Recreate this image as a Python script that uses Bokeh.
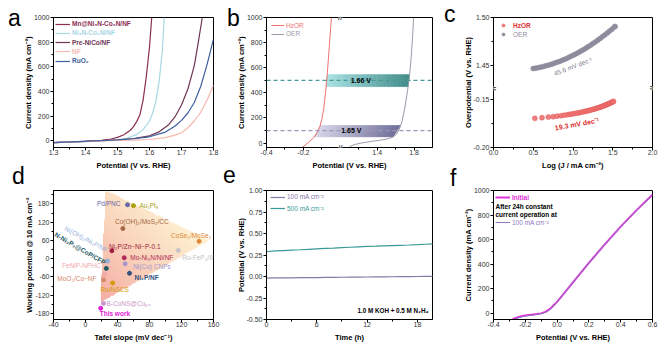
import numpy as np
from bokeh.plotting import figure
from bokeh.models import (FixedTicker, Legend, LegendItem, Label, LabelSet,
                          ColumnDataSource, Span, Range1d, GridBox, Div)
from bokeh.core.properties import value
from bokeh.embed import file_html
from bokeh.resources import INLINE

FONT = "Liberation Sans"

# ---------------- data ----------------
# (a) OER polarisation curves
a_mn_x = [1.30, 1.35, 1.40, 1.45, 1.48, 1.50, 1.52, 1.54, 1.55, 1.56, 1.57, 1.58, 1.59, 1.60, 1.607]
a_mn_y = [-15, -12, -6, 4, 14, 27, 48, 85, 115, 155, 210, 330, 520, 760, 1000]
a_ni_x = [1.30, 1.40, 1.45, 1.50, 1.53, 1.56, 1.58, 1.60, 1.61, 1.62, 1.63, 1.64, 1.646]
a_ni_y = [-15, -8, -2, 8, 22, 50, 90, 160, 225, 320, 480, 730, 1000]
a_pre_x = [1.30, 1.45, 1.50, 1.55, 1.60, 1.63, 1.66, 1.68, 1.70, 1.72, 1.74, 1.75, 1.765]
a_pre_y = [-15, 0, 8, 18, 40, 72, 130, 195, 290, 420, 610, 760, 1000]
a_nf_x = [1.30, 1.50, 1.55, 1.60, 1.65, 1.68, 1.70, 1.72, 1.74, 1.76, 1.78, 1.80]
a_nf_y = [-15, 2, 5, 10, 25, 45, 65, 105, 160, 230, 330, 450]
a_ru_x = [1.30, 1.50, 1.55, 1.60, 1.65, 1.68, 1.70, 1.72, 1.74, 1.76, 1.78, 1.80]
a_ru_y = [-15, 6, 16, 32, 70, 120, 165, 225, 310, 440, 620, 825]
a_names = ["Mn@Ni₃N-Co₂N/NF", "Ni₃N-Co₂N/NF", "Pre-NiCo/NF", "NF", "RuO₂"]

# (b) HzOR vs OER
b_hz_x = [-0.215, -0.19, -0.165, -0.145, -0.125, -0.11, -0.10, -0.09, -0.08, -0.07, -0.06, -0.048]
b_hz_y = [-45, -15, 15, 42, 85, 135, 190, 270, 400, 560, 760, 1000]
b_oer_x = [1.10, 1.15, 1.24, 1.35, 1.45, 1.52, 1.57, 1.61, 1.64, 1.67, 1.70, 1.73, 1.75, 1.77, 1.785, 1.795]
b_oer_y = [-28, -12, 2, 15, 25, 35, 48, 70, 110, 175, 280, 420, 530, 690, 860, 1000]
b_levels = [500, 100]
b_level_text = ["1.66 V", "1.65 V"]
b_band_lo = [450, 50]
b_band_hi = [545, 140]

# (c) Tafel plots
c_hz_x = [0.52, 0.61, 0.69, 0.75, 0.80, 0.85, 0.89, 0.93, 0.96, 0.99, 1.02, 1.05, 1.08, 1.10,
          1.13, 1.15, 1.17, 1.19, 1.21, 1.23, 1.25, 1.27, 1.29, 1.30, 1.32, 1.34, 1.35, 1.37,
          1.38, 1.40, 1.41, 1.42, 1.44, 1.45, 1.46, 1.47, 1.49, 1.50, 1.51]
c_hz_y = [-0.1695, -0.1688, -0.1682, -0.1677, -0.1672, -0.1667, -0.1662, -0.1657, -0.1653,
          -0.1649, -0.1645, -0.1640, -0.1636, -0.1632, -0.1627, -0.1623, -0.1619, -0.1615,
          -0.1611, -0.1606, -0.1602, -0.1597, -0.1592, -0.1589, -0.1584, -0.1578, -0.1575,
          -0.1569, -0.1566, -0.1560, -0.1556, -0.1553, -0.1546, -0.1542, -0.1538, -0.1534,
          -0.1526, -0.1522, -0.1518]
c_oer_x = [0.50, 0.53, 0.56, 0.59, 0.62, 0.65, 0.68, 0.71, 0.74, 0.77, 0.80, 0.83, 0.86, 0.89,
           0.92, 0.95, 0.98, 1.01, 1.04, 1.07, 1.10, 1.13, 1.16, 1.19, 1.22, 1.25, 1.28, 1.31,
           1.34, 1.37, 1.40, 1.43, 1.46, 1.49, 1.52, 1.53]
c_oer_y = [1.4466, 1.4470, 1.4475, 1.4480, 1.4486, 1.4493, 1.4499, 1.4507, 1.4514, 1.4523,
           1.4532, 1.4541, 1.4551, 1.4561, 1.4572, 1.4584, 1.4596, 1.4608, 1.4621, 1.4635,
           1.4649, 1.4663, 1.4678, 1.4694, 1.4710, 1.4727, 1.4744, 1.4761, 1.4780, 1.4798,
           1.4818, 1.4837, 1.4858, 1.4878, 1.4900, 1.4907]
c_slopes = ["45.6 mV dec⁻¹", "19.3 mV dec⁻¹"]

# (d) comparison
d_names = ["Pd/PNC", "Au₁Pt₉", "Co(OH)₂/MoS₂/CC", "CoSe₂/MoSe₂", "Ru-FeP₄/IF",
           "Ni₂P/Zn−Ni−P-0.1", "Ni(OH)₂/Ni₂P/NF", "Mo-Ni₃N/Ni/NF", "Ni(Cu) CNPs",
           "N-Ni₃P₂@CoP/CFP", "Ni₂P/NF", "FeNiP-NPHC", "MoO₂/Co−NF", "Ru/NSCS",
           "B-CoNS@Cuₚₒ", "This work"]
d_tafel = [52.5, 60, 46.7, 142, 116, 33, 27.5, 48.4, 49.6, 26, 55, 24, 22.5, 34, 22.5, 19]
d_pot = [177, 174, 99, 57, 27, 26, -8, 3, -17, -32, -48, -51, -70, -80, -147, -163]
d_colors = ["#6868a8", "#a8a010", "#a86848", "#e08838", "#c4c4c4", "#a01c3c", "#98b0d8",
            "#b02a58", "#a898d0", "#1f5a66", "#33507e", "#f0a8a8", "#d8886a", "#d49a00",
            "#c898c8", "#e020d8"]
d_align = ["right", "left", "center", "left", "left", "left", "center", "left", "left",
           "center", "left", "right", "right", "center", "left", "left"]
d_xoff = [-7, 6, 19, -28, 4, -3, -21, 6, 8, -26, 5, -4, -7, 2, 3, -1]
d_yoff = [1, 0, 7, 6, -7, 4, 22, 0, -3, 20, -4, 9, 1, -7, 0, -5]
d_angle = [0, 0, 0, 0, 0, 0, -28, 0, 0, -30, 0, 0, 0, 0, 0, 0]
d_style = ["normal"] * 9 + ["bold", "bold"] + ["normal"] * 4 + ["bold"]
d_tri_x = [25, 155, 18]
d_tri_y = [224, 60, -145]

# (e) stability
e_t = [0, 1, 2, 3, 4, 5, 6, 7, 8, 9, 10, 11, 12, 13, 14, 15, 16, 17, 18, 19, 20]
e_100 = [-0.018, -0.017, -0.016, -0.015, -0.014, -0.013, -0.012, -0.011, -0.010, -0.009,
         -0.008, -0.007, -0.006, -0.005, -0.004, -0.003, -0.002, -0.001, 0.000, 0.001, 0.002]
e_500 = [0.288, 0.297, 0.302, 0.307, 0.311, 0.316, 0.321, 0.326, 0.330, 0.335, 0.340,
         0.345, 0.350, 0.353, 0.357, 0.360, 0.363, 0.366, 0.370, 0.375, 0.380]

# (f) before / after
f_init_x = [-0.28, -0.25, -0.22, -0.19, -0.16, -0.13, -0.10, -0.07, -0.04, 0.00, 0.10, 0.20, 0.30, 0.40, 0.50, 0.60]
f_init_y = [-50, -35, -24, -18, -13, -8, -2, 12, 40, 92, 250, 410, 560, 705, 840, 965]
f_after_x = [-0.27, -0.24, -0.21, -0.18, -0.15, -0.12, -0.09, -0.06, -0.03, 0.00, 0.10, 0.20, 0.30, 0.40, 0.50, 0.60]
f_after_y = [-50, -37, -27, -20, -15, -9, -2, 14, 45, 90, 248, 408, 558, 703, 838, 962]


# ---------------- helpers ----------------
def base(w, h, l, r, t, b, xr, yr, xlabel, ylabel):
    p = figure(width=w, height=h, min_border_left=l, min_border_right=r,
               min_border_top=t, min_border_bottom=b,
               x_range=Range1d(*xr), y_range=Range1d(*yr),
               output_backend="svg", toolbar_location=None)
    p.grid.visible = False
    p.outline_line_color = "black"
    p.outline_line_alpha = 1
    p.outline_line_width = 1
    p.xaxis.axis_label = xlabel
    p.yaxis.axis_label = ylabel
    for ax in (p.xaxis[0], p.yaxis[0]):
        ax.axis_line_color = "black"
        ax.major_tick_line_color = "black"
        ax.minor_tick_line_color = "black"
        ax.major_tick_out = 3
        ax.major_tick_in = 0
        ax.minor_tick_out = 2
        ax.minor_tick_in = 0
        ax.major_label_text_font = FONT
        ax.major_label_text_font_size = "7px"
        ax.major_label_text_color = "#333333"
        ax.axis_label_text_font = FONT
        ax.axis_label_text_font_size = "7.5px"
        ax.axis_label_text_font_style = "bold"
        ax.axis_label_text_color = "black"
    p.xaxis[0].major_label_standoff = -1
    p.xaxis[0].axis_label_standoff = 3
    p.yaxis[0].major_label_standoff = 1
    p.yaxis[0].axis_label_standoff = -2
    return p


def ticks(ax, major, minor, labels):
    ax.ticker = FixedTicker(ticks=[float(v) for v in major], minor_ticks=[float(v) for v in minor])
    ax.major_label_overrides = {float(v): s for v, s in zip(major, labels)}


LH = 10  # legend row height


def item_legend(p, r, label, color, x, cy, gw=15, size="6.5px", style="bold", standoff=2):
    """cy: centre of the row, in px above the frame bottom."""
    lg = Legend(items=[LegendItem(label=label, renderers=[r])], location=(x, cy - LH / 2),
                padding=0, margin=0, spacing=0, border_line_alpha=0,
                background_fill_alpha=0, glyph_width=gw, glyph_height=LH,
                label_height=LH, label_standoff=standoff,
                label_text_font=FONT, label_text_font_size=size,
                label_text_font_style=style, label_text_color=color)
    p.add_layout(lg)


# frame borders (rows share top/bottom, columns share left/right in the grid)
TOP1, BOT1 = 17, 27
TOP2, BOT2 = 16, 29
L0, R0 = 53, 7
L1, R1 = 46, 8
L2, R2 = 53, 13
FB1 = 174 - TOP1 - BOT1   # frame height row 1
FB2 = 174 - TOP2 - BOT2   # frame height row 2

# ---------------- (a) ----------------
pa = base(220, 174, L0, R0, TOP1, BOT1, (1.3, 1.8), (-55, 1000),
          "Potential (V vs. RHE)", "Current density (mA cm⁻²)")
ticks(pa.xaxis[0], [1.3, 1.4, 1.5, 1.6, 1.7, 1.8], [1.35, 1.45, 1.55, 1.65, 1.75],
      ["1.3", "1.4", "1.5", "1.6", "1.7", "1.8"])
ticks(pa.yaxis[0], [0, 200, 400, 600, 800, 1000], [100, 300, 500, 700, 900],
      ["0", "200", "400", "600", "800", "1000"])
a_cols = ["#8b2e50", "#a7d7e2", "#6e3654", "#f5b9b0", "#3d5fa0"]
a_series = [(a_mn_x, a_mn_y), (a_ni_x, a_ni_y), (a_pre_x, a_pre_y), (a_nf_x, a_nf_y), (a_ru_x, a_ru_y)]
a_r = []
for (xs, ys), c in zip(a_series, a_cols):
    a_r.append(pa.line(xs, ys, line_color=c, line_width=1.2))
for i, (r, nm, c) in enumerate(zip(a_r, a_names, a_cols)):
    cy = 6.7 + 9.2 * i
    item_legend(pa, r, nm, c, 2, FB1 - cy)

# ---------------- (b) ----------------
def tb(v):
    v = np.asarray(v, dtype=float)
    return np.where(v <= 0.5, v, (v - 1.0) / 2.0)

pb = base(220, 174, L1, R1, TOP1, BOT1, (-0.4, 0.5), (-35, 1000),
          "Potential (V vs. RHE)", "Current density (mA cm⁻²)")
ticks(pb.xaxis[0], tb([-0.4, -0.2, 1.4, 1.8]), tb([-0.3, -0.1, 1.2, 1.6]),
      ["-0.4", "-0.2", "1.4", "1.8"])
ticks(pb.yaxis[0], [0, 200, 400, 600, 800, 1000], [100, 300, 500, 700, 900],
      ["0", "200", "400", "600", "800", "1000"])

band_cols = [((168, 226, 228), (62, 138, 136)), ((214, 214, 232), (108, 106, 150))]
hz_x_arr = np.array(b_hz_x); hz_y_arr = np.array(b_hz_y)
oer_x_arr = np.array(b_oer_x); oer_y_arr = np.array(b_oer_y)
for lo, hi, (cl, cr) in zip(b_band_lo, b_band_hi, band_cols):
    xl_lo = float(tb(np.interp(lo, hz_y_arr, hz_x_arr)))
    xl_hi = float(tb(np.interp(hi, hz_y_arr, hz_x_arr)))
    xr_lo = float(tb(np.interp(lo, oer_y_arr, oer_x_arr)))
    xr_hi = float(tb(np.interp(hi, oer_y_arr, oer_x_arr)))
    n = 60
    xs_l, ys_l, cs = [], [], []
    for k in range(n):
        t0, t1 = k / n, (k + 1) / n
        tm = (t0 + t1) / 2
        xs_l.append([xl_lo + t0 * (xr_lo - xl_lo), xl_hi + t0 * (xr_hi - xl_hi),
                     xl_hi + t1 * (xr_hi - xl_hi), xl_lo + t1 * (xr_lo - xl_lo)])
        ys_l.append([lo, hi, hi, lo])
        col = tuple(int(round(a + (b - a) * tm)) for a, b in zip(cl, cr))
        cs.append("#%02x%02x%02x" % col)
    pb.patches(xs_l, ys_l, fill_color=cs, line_color=cs, line_width=0.6)

for lev, col in zip(b_levels, ["#4a9896", "#9a98b8"]):
    pb.add_layout(Span(location=lev, dimension="width", line_color=col,
                       line_dash="4 3", line_width=1.2))
for lev, txt in zip(b_levels, b_level_text):
    xm = (float(tb(np.interp(lev, hz_y_arr, hz_x_arr))) + float(tb(np.interp(lev, oer_y_arr, oer_x_arr)))) / 2
    pb.add_layout(Label(x=xm, y=lev, text=txt, x_offset=-7, text_font=FONT, text_font_size="7px",
                        text_font_style="bold", text_color="black",
                        text_align="center", text_baseline="middle"))

r_hz = pb.line(tb(b_hz_x), b_hz_y, line_color="#f07070", line_width=1)
r_oer = pb.line(tb(b_oer_x), b_oer_y, line_color="#9a9aaa", line_width=1)
item_legend(pb, r_hz, "HzOR", "#f07070", 5, FB1 - 8, gw=13, style="normal")
item_legend(pb, r_oer, "OER", "#9a9aaa", 5, FB1 - 16.5, gw=13, style="normal")
for yy in (1000, -35):
    pb.add_layout(Label(x=0.0, y=yy, text="//", text_font=FONT, text_font_size="8px",
                        text_color="black", text_align="center",
                        text_baseline="middle", background_fill_color="white"))

# ---------------- (c) ----------------
def tc(v):
    v = np.asarray(v, dtype=float)
    return np.where(v > 0.5, v - 1.564, v)

pc = base(225, 174, L2, R2, TOP1, BOT1, (0, 2), (-0.2, -0.064),
          "Log (J / mA cm⁻²)", "Overpotential (V vs. RHE)")
ticks(pc.xaxis[0], [0, 0.5, 1.0, 1.5, 2.0], [0.25, 0.75, 1.25, 1.75],
      ["0.0", "0.5", "1.0", "1.5", "2.0"])
ticks(pc.yaxis[0], tc([1.50, 1.45, -0.15, -0.20]), tc([1.475, -0.175]),
      ["1.50", "1.45", "-0.15", "-0.20"])
r_chz = pc.scatter(c_hz_x, c_hz_y, size=5, fill_color="#f07070", line_color="#e05a5a",
                   fill_alpha=0.9, line_width=0.5)
r_coer = pc.scatter(c_oer_x, tc(c_oer_y), size=5, fill_color="#8e8c9c", line_color="#8e8c9c",
                    line_width=0.5)
item_legend(pc, r_chz, "HzOR", "#e03030", 6, FB1 - 8, gw=8, standoff=6)
item_legend(pc, r_coer, "OER", "#8e8c9c", 6, FB1 - 17, gw=8, standoff=6, style="normal")
pc.add_layout(Label(x=1.0, y=float(tc(np.interp(1.0, c_oer_x, c_oer_y))), y_offset=-11,
                    text=c_slopes[0], angle=21, angle_units="deg", text_font=FONT,
                    text_font_size="6.5px", text_color="#7e7c8c", text_align="center",
                    text_baseline="middle"))
pc.add_layout(Label(x=1.05, y=float(np.interp(1.05, c_hz_x, c_hz_y)), y_offset=-11,
                    text=c_slopes[1], angle=10, angle_units="deg", text_font=FONT,
                    text_font_size="7px", text_font_style="bold", text_color="#e03030",
                    text_align="center", text_baseline="middle"))
for xx in (0.0, 2.0):
    pc.add_layout(Label(x=xx, y=-0.138, text="//", angle=90, angle_units="deg",
                        text_font=FONT, text_font_size="8px", text_color="black",
                        text_align="center", text_baseline="middle",
                        background_fill_color="white"))

# ---------------- (d) ----------------
pd_ = base(220, 174, L0, R0, TOP2, BOT2, (-40, 160), (-200, 224),
           "Tafel slope (mV dec⁻¹)", "Working potential @ 10 mA cm⁻²")
ticks(pd_.xaxis[0], [-40, 0, 40, 80, 120, 160], [-20, 20, 60, 100, 140],
      ["-40", "0", "40", "80", "120", "160"])
ticks(pd_.yaxis[0], [-180, -120, -60, 0, 60, 120, 180], [-150, -90, -30, 30, 90, 150, 210],
      ["-180", "-120", "-60", "0", "60", "120", "180"])

# gradient triangle
nx, ny = 160, 240
x0, x1 = min(d_tri_x), max(d_tri_x)
y0, y1 = min(d_tri_y), max(d_tri_y)
gx = np.linspace(x0, x1, nx)
gy = np.linspace(y0, y1, ny)
X, Y = np.meshgrid(gx, gy)
(Ax, Bx, Cx), (Ay, By, Cy) = d_tri_x, d_tri_y
def edge(ax_, ay_, bx_, by_):
    return (bx_ - ax_) * (Y - ay_) - (by_ - ay_) * (X - ax_)
e1, e2, e3 = edge(Ax, Ay, Bx, By), edge(Bx, By, Cx, Cy), edge(Cx, Cy, Ax, Ay)
inside = ((e1 >= 0) & (e2 >= 0) & (e3 >= 0)) | ((e1 <= 0) & (e2 <= 0) & (e3 <= 0))
U = (X - x0) / (x1 - x0)
V = (Y - y0) / (y1 - y0)
T = np.clip((U + V) / 1.55, 0, 1)
c0, c1, c2 = np.array([245, 172, 164]), np.array([250, 212, 188]), np.array([254, 244, 212])
img = np.zeros((ny, nx), dtype=np.uint32)
view = img.view(dtype=np.uint8).reshape((ny, nx, 4))
for ch in range(3):
    view[:, :, ch] = np.where(T < 0.5, c0[ch] + (c1[ch] - c0[ch]) * T / 0.5,
                              c1[ch] + (c2[ch] - c1[ch]) * (T - 0.5) / 0.5).astype(np.uint8)
view[:, :, 3] = np.where(inside, 255, 0).astype(np.uint8)
pd_.image_rgba(image=[img], x=x0, y=y0, dw=x1 - x0, dh=y1 - y0)

dsrc = ColumnDataSource(dict(x=d_tafel, y=d_pot, text=d_names, color=d_colors, align=d_align,
                             xo=d_xoff, yo=d_yoff, ang=d_angle, st=d_style))
pd_.scatter("x", "y", source=dsrc, size=4, fill_color="color", line_color="color")
pd_.add_layout(LabelSet(x="x", y="y", text="text", source=dsrc, x_offset="xo", y_offset="yo",
                        angle="ang", angle_units="deg", text_color="color", text_align="align",
                        text_baseline="middle", text_font=value(FONT), text_font_size="6.5px",
                        text_font_style="st"))

# ---------------- (e) ----------------
pe = base(220, 174, L1, R1, TOP2, BOT2, (0, 19.8), (-0.5, 1.0),
          "Time (h)", "Potential (V vs. RHE)")
ticks(pe.xaxis[0], [0, 6, 12, 18], [3, 9, 15], ["0", "6", "12", "18"])
ticks(pe.yaxis[0], [-0.5, -0.25, 0, 0.25, 0.5, 0.75, 1.0],
      [-0.375, -0.125, 0.125, 0.375, 0.625, 0.875],
      ["-0.50", "-0.25", "0.00", "0.25", "0.50", "0.75", "1.00"])
r100 = pe.line(e_t, e_100, line_color="#8878a8", line_width=1.2)
r500 = pe.line(e_t, e_500, line_color="#3a9a98", line_width=1.2)
item_legend(pe, r100, "100 mA cm⁻²", "#8878a8", 4, FB2 - 6.5, style="normal")
item_legend(pe, r500, "500 mA cm⁻²", "#3a9a98", 4, FB2 - 18, style="normal")
pe.add_layout(Label(x=FB2 * 0 + 162, y=9, x_units="screen", y_units="screen",
                    text="1.0 M KOH + 0.5 M N₂H₄", text_font=FONT, text_font_size="6.3px",
                    text_font_style="bold", text_color="black", text_align="right",
                    text_baseline="middle"))

# ---------------- (f) ----------------
pf = base(225, 174, L2, R2, TOP2, BOT2, (-0.4, 0.6), (-52, 1000),
          "Potential (V vs. RHE)", "Current density (mA cm⁻²)")
ticks(pf.xaxis[0], [-0.4, -0.2, 0.0, 0.2, 0.4, 0.6], [-0.3, -0.1, 0.1, 0.3, 0.5],
      ["-0.4", "-0.2", "0.0", "0.2", "0.4", "0.6"])
ticks(pf.yaxis[0], [0, 200, 400, 600, 800, 1000], [100, 300, 500, 700, 900],
      ["0", "200", "400", "600", "800", "1000"])
r_init = pf.line(f_init_x, f_init_y, line_color="#e030d8", line_width=2)
r_after = pf.line(f_after_x, f_after_y, line_color="#9078c0", line_width=1)
item_legend(pf, r_init, "Initial", "#e030d8", 2, FB2 - 7)
item_legend(pf, r_after, "100 mA cm⁻²", "#9078c0", 2, FB2 - 32, style="normal")
for txt, dy in (("After 24h constant", 15.5), ("current  operation at", 24)):
    pf.add_layout(Label(x=2, y=FB2 - dy, x_units="screen", y_units="screen", text=txt,
                        text_font=FONT, text_font_size="6.5px", text_font_style="bold",
                        text_color="black", text_align="left", text_baseline="middle"))

# ---------------- panel letters (overlaid HTML text) ----------------
def letters_div(items):
    spans = "".join(
        f'<span style="position:absolute;left:{lx}px;top:{ty}px;">{t}</span>'
        for t, lx, ty in items)
    html = ('<div style="position:relative;width:40px;height:348px;'
            "font-family:'Liberation Sans',Arial,sans-serif;font-size:23px;"
            f'line-height:23px;color:#000;">{spans}</div>')
    return Div(text=html, width=40, height=348, margin=0)

div0 = letters_div([("a", 8, 7), ("d", 12, 165)])
div1 = letters_div([("b", 7, 7), ("e", 3, 164)])
div2 = letters_div([("c", 4, 3), ("f", 10, 167)])

grid = GridBox(children=[(pa, 0, 0), (pb, 0, 1), (pc, 0, 2),
                         (pd_, 1, 0), (pe, 1, 1), (pf, 1, 2),
                         (div0, 0, 0, 2, 1), (div1, 0, 1, 2, 1), (div2, 0, 2, 2, 1)],
               spacing=0)
open("out.html", "w").write(file_html(grid, INLINE, title="chart"))
